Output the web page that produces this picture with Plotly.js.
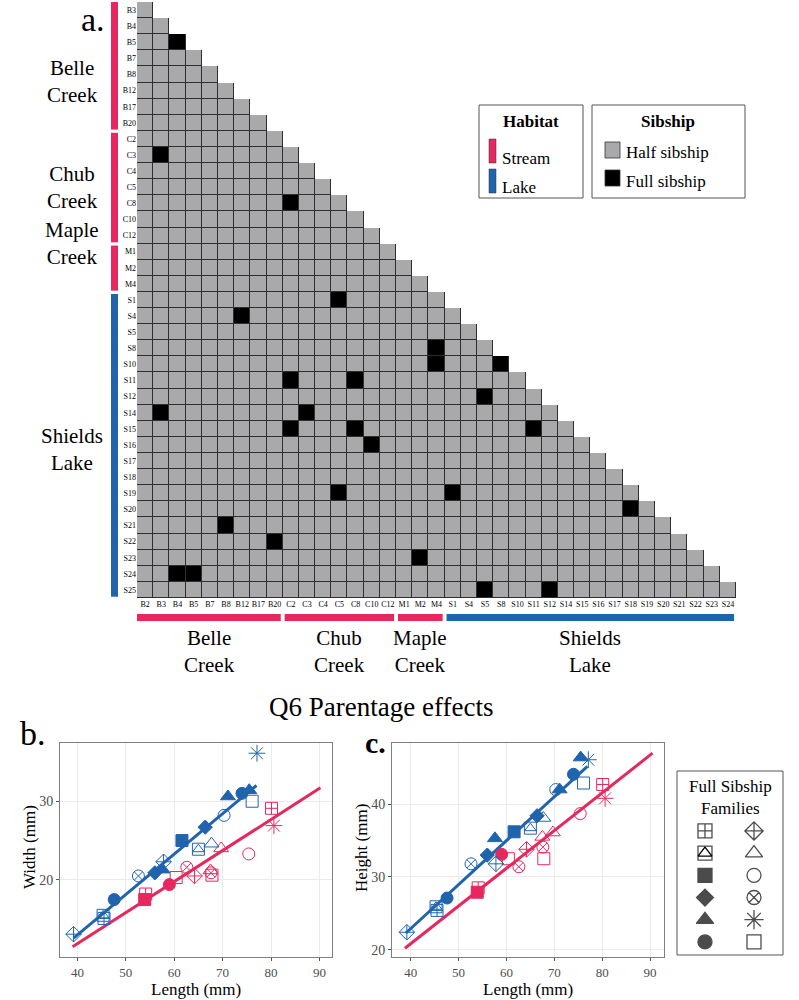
<!DOCTYPE html>
<html><head><meta charset="utf-8">
<script src="https://cdn.plot.ly/plotly-3.0.1.min.js"></script>
<style>html,body{margin:0;padding:0;background:#fff}</style>
</head><body><div id="chart" style="width:799px;height:1000px"></div>
<script>
// ---------- Panel a data ----------
const individuals = ['B2','B3','B4','B5','B7','B8','B12','B17','B20',
  'C2','C3','C4','C5','C8','C10','C12','M1','M2','M4',
  'S1','S4','S5','S8','S10','S11','S12','S14','S15','S16','S17','S18','S19','S20','S21','S22','S23','S24','S25'];
const colLabels = individuals.slice(0, individuals.length - 1);
const rowLabels = individuals.slice(1);
const fullSibPairs = [['B5','B4'],['C3','B3'],['C8','C2'],['S1','C5'],['S4','B12'],['S8','M4'],['S10','M4'],['S10','S8'],
  ['S11','C2'],['S11','C8'],['S12','S5'],['S14','B3'],['S14','C3'],['S15','C2'],['S15','C8'],['S15','S11'],['S16','C10'],
  ['S19','C5'],['S19','S1'],['S20','S18'],['S21','B8'],['S22','B20'],['S23','M2'],['S24','B4'],['S24','B5'],['S25','S5'],['S25','S12']];
const groupPrefixes = ['B','C','M','S'];
const groupNames = ['Belle<br>Creek','Chub<br>Creek','Maple<br>Creek','Shields<br>Lake'];
const groupHabitat = ['Stream','Stream','Stream','Lake'];

// ---------- Panels b, c data ----------
const lakeShape  = ['diamond-cross','square-cross','square-triangle','circle','circle-x','diamond','triangle','diamond-cross','square','square-triangle','triangle-open','diamond','circle-open','triangle','circle','triangle','square-open','asterisk'];
const lakeLength = [39.2,45.5,45.3,47.6,52.6,56.0,57.6,57.8,61.6,65.0,67.7,66.4,70.3,71.1,74.0,75.5,76.1,77.1];
const lakeWidth  = [13.1,15.1,15.5,17.5,20.5,20.9,21.3,22.3,25.0,23.9,24.6,26.7,28.2,30.6,31.0,31.4,30.0,36.1];
const lakeHeight = [22.4,25.4,25.9,27.1,31.8,33.0,35.3,31.8,36.2,36.7,38.1,38.4,42.0,42.0,44.1,46.4,42.9,46.1];

const streamShape  = ['square','square-cross','circle','square-open','circle-x','diamond-cross','triangle-open','circle-x','square-open','triangle-open','circle-open','square-cross','asterisk'];
const streamLength = [53.9,54.1,59.0,60.4,62.6,64.2,67.5,67.6,67.8,69.7,75.4,80.1,80.6];
const streamWidth  = [17.5,18.2,19.4,20.3,21.6,20.5,21.2,20.9,20.6,24.0,23.3,29.1,26.9];
const streamHeight = [27.9,28.5,33.1,32.5,31.4,33.8,35.5,34.1,32.5,36.1,38.7,42.7,40.8];

const fitLakeLength   = [39.2, 77.0];
const fitLakeWidth    = [12.6, 32.0];
const fitStreamLength = [39.0, 90.2];
const fitStreamWidth  = [11.5, 31.7];
const fitLakeLengthC   = [39.0, 76.9];
const fitLakeHeight    = [22.3, 45.2];
const fitStreamLengthC = [38.8, 90.5];
const fitStreamHeight  = [20.2, 47.0];

const familySymbols = ['square-cross','square-triangle','square','diamond','triangle','circle',
                       'diamond-cross','triangle-open','circle-open','circle-x','asterisk','square-open'];

// ---------- styling ----------
const FONT = '"Liberation Serif", serif';
const STREAM = '#E6285E';
const LAKE = '#2064AE';
const HALF = '#A9A9AC';
const FULL = '#000000';
const px = v => v / 799, py = v => 1 - v / 1000;

const symMap = {
  'square-cross':'square-cross-open','square-triangle':'square-open','square':'square','diamond':'diamond',
  'triangle':'triangle-up','circle':'circle','diamond-cross':'diamond-cross-open','triangle-open':'triangle-up-open',
  'circle-open':'circle-open','circle-x':'circle-x-open','asterisk':'asterisk-open','square-open':'square-open'};
const sizeMap = {
  'square-cross':12,'square-triangle':12,'square':12,'diamond':11,'triangle':13,'circle':12,
  'diamond-cross':12,'triangle-open':13,'circle-open':12,'circle-x':12,'asterisk':14,'square-open':12};

// ---------- heatmap ----------
const fullSet = new Set(fullSibPairs.map(p => p[0] + '|' + p[1]));
const zMain = rowLabels.map((r, i) => colLabels.map((c, j) => j <= i ? (fullSet.has(r + '|' + c) ? 1 : 0) : null));
const zBorder = rowLabels.map((r, i) => colLabels.map((c, j) => j <= i ? 1 : null));

const traces = [];
traces.push({type:'heatmap', x: colLabels, y: rowLabels, z: zBorder, xaxis:'x', yaxis:'y',
  colorscale:[[0,'#2e2e2e'],[1,'#2e2e2e']], showscale:false, hoverinfo:'skip'});
traces.push({type:'heatmap', x: colLabels, y: rowLabels, z: zMain, xaxis:'x', yaxis:'y', xgap:1, ygap:1,
  zmin:0, zmax:1, colorscale:[[0,HALF],[0.5,HALF],[0.5,FULL],[1,FULL]], showscale:false, hoverinfo:'skip'});

// ---------- scatter panels ----------
function addPoints(shapes, xs, ys, color, xa, ya) {
  traces.push({type:'scatter', mode:'markers', x: xs, y: ys, xaxis: xa, yaxis: ya, hoverinfo:'skip',
    marker:{symbol: shapes.map(s => symMap[s]), size: shapes.map(s => sizeMap[s]), color: color, opacity:1,
      line:{color: color, width: 1}}});
  const tri = shapes.map((s, i) => s === 'square-triangle' ? i : -1).filter(i => i >= 0);
  traces.push({type:'scatter', mode:'markers', x: tri.map(i => xs[i]), y: tri.map(i => ys[i]), xaxis: xa, yaxis: ya,
    hoverinfo:'skip', marker:{symbol:'triangle-up-open', size:10, color: color, line:{color: color, width: 1}}});
}
function addLine(xs, ys, color, xa, ya) {
  traces.push({type:'scatter', mode:'lines', x: xs, y: ys, xaxis: xa, yaxis: ya, hoverinfo:'skip',
    line:{color: color, width: 3}});
}
addLine(fitStreamLength, fitStreamWidth, STREAM, 'x2', 'y2');
addLine(fitLakeLength, fitLakeWidth, LAKE, 'x2', 'y2');
addPoints(streamShape, streamLength, streamWidth, STREAM, 'x2', 'y2');
addPoints(lakeShape, lakeLength, lakeWidth, LAKE, 'x2', 'y2');
addLine(fitStreamLengthC, fitStreamHeight, STREAM, 'x3', 'y3');
addLine(fitLakeLengthC, fitLakeHeight, LAKE, 'x3', 'y3');
addPoints(streamShape, streamLength, streamHeight, STREAM, 'x3', 'y3');
addPoints(lakeShape, lakeLength, lakeHeight, LAKE, 'x3', 'y3');

// family legend symbols (2 columns x 6 rows)
const famX = familySymbols.map((s, i) => Math.floor(i / 6));
const famY = familySymbols.map((s, i) => i % 6);
traces.push({type:'scatter', mode:'markers', x: famX, y: famY, xaxis:'x4', yaxis:'y4', hoverinfo:'skip',
  marker:{symbol: familySymbols.map(s => symMap[s]), size: familySymbols.map(s => sizeMap[s] + 2), color:'#000',
    line:{color:'#000', width:1.3}}});
const famTri = familySymbols.map((s, i) => s === 'square-triangle' ? i : -1).filter(i => i >= 0);
traces.push({type:'scatter', mode:'markers', x: famTri.map(i => famX[i]), y: famTri.map(i => famY[i]), xaxis:'x4', yaxis:'y4',
  hoverinfo:'skip', marker:{symbol:'triangle-up-open', size:12, color:'#000', line:{color:'#000', width:1.3}}});

// ---------- layout: shapes & annotations ----------
const shapes = [];
const annotations = [];
const txt = (x, y, text, size, opts) => Object.assign({xref:'paper', yref:'paper', x: px(x), y: py(y), text: text,
  showarrow:false, font:{family:FONT, size: size, color:'#000'}, xanchor:'center', yanchor:'middle'}, opts || {});

groupPrefixes.forEach((g, k) => {
  const rIdx = rowLabels.map((r, i) => r[0] === g ? i : -1).filter(i => i >= 0);
  const cIdx = colLabels.map((c, i) => c[0] === g ? i : -1).filter(i => i >= 0);
  const col = groupHabitat[k] === 'Stream' ? STREAM : LAKE;
  shapes.push({type:'rect', xref:'paper', yref:'y', x0: px(111), x1: px(118),
    y0: rIdx[0] - 0.5 + (k ? 0.12 : 0), y1: rIdx[rIdx.length - 1] + 0.5 - 0.08, fillcolor: col, line:{width:0}});
  shapes.push({type:'rect', xref:'x', yref:'paper', y0: py(621), y1: py(614),
    x0: cIdx[0] - 0.5 + (k ? 0.12 : -0.1), x1: cIdx[cIdx.length - 1] + 0.5 - 0.12, fillcolor: col, line:{width:0}});
  annotations.push({xref:'x', yref:'paper', x: (cIdx[0] + cIdx[cIdx.length - 1]) / 2, y: py(651),
    text: groupNames[k], showarrow:false, font:{family:FONT, size:21, color:'#000'}, xanchor:'center', yanchor:'middle'});
});
const leftLabelY = [82, 187, 243, 449];
groupNames.forEach((n, k) => annotations.push(txt(72, leftLabelY[k], n, 21)));

// panel letters & title
annotations.push(txt(93, 19, 'a.', 34));
annotations.push(txt(33, 733, 'b.', 34));
annotations.push(txt(375, 742, '<b>c.</b>', 30));
annotations.push(txt(381, 707, 'Q6 Parentage effects', 27));

// axis titles for b and c
annotations.push(txt(196, 989, 'Length (mm)', 17));
annotations.push(txt(528, 989, 'Length (mm)', 17));
annotations.push(txt(29, 847, 'Width (mm)', 17, {textangle:-90}));
annotations.push(txt(361, 848, 'Height (mm)', 17, {textangle:-90}));

// Habitat legend
shapes.push({type:'rect', xref:'paper', yref:'paper', x0: px(479), x1: px(583), y0: py(198), y1: py(105),
  line:{color:'#555', width:1}, fillcolor:'rgba(0,0,0,0)'});
annotations.push(txt(531, 121, '<b>Habitat</b>', 17));
shapes.push({type:'rect', xref:'paper', yref:'paper', x0: px(489), x1: px(496), y0: py(163), y1: py(139),
  fillcolor: STREAM, line:{color:'#333', width:0.5}});
shapes.push({type:'rect', xref:'paper', yref:'paper', x0: px(489), x1: px(496), y0: py(193), y1: py(169),
  fillcolor: LAKE, line:{color:'#333', width:0.5}});
annotations.push(txt(500, 158, 'Stream', 17, {xanchor:'left'}));
annotations.push(txt(500, 188, 'Lake', 17, {xanchor:'left'}));

// Sibship legend
shapes.push({type:'rect', xref:'paper', yref:'paper', x0: px(592), x1: px(745), y0: py(198), y1: py(105),
  line:{color:'#555', width:1}, fillcolor:'rgba(0,0,0,0)'});
annotations.push(txt(668, 121, '<b>Sibship</b>', 17));
shapes.push({type:'rect', xref:'paper', yref:'paper', x0: px(605), x1: px(620), y0: py(158), y1: py(142),
  fillcolor: HALF, line:{color:'#333', width:0.8}});
shapes.push({type:'rect', xref:'paper', yref:'paper', x0: px(605), x1: px(620), y0: py(186), y1: py(170),
  fillcolor: FULL, line:{color:'#333', width:0.8}});
annotations.push(txt(624, 152, 'Half sibship', 17, {xanchor:'left'}));
annotations.push(txt(624, 181, 'Full sibship', 17, {xanchor:'left'}));

// Family legend box
shapes.push({type:'rect', xref:'paper', yref:'paper', x0: px(677), x1: px(783), y0: py(955), y1: py(771),
  line:{color:'#555', width:1}, fillcolor:'rgba(0,0,0,0)'});
annotations.push(txt(730, 786, 'Full Sibship', 17));
annotations.push(txt(730, 808, 'Families', 17));

// ---------- axes ----------
const scatterAxisX = (dom, range, anchor) => ({domain: dom, range: range, anchor: anchor, tickvals:[40,50,60,70,80,90],
  showgrid:true, gridcolor:'#EBEBEB', gridwidth:1, zeroline:false, showline:true, linecolor:'#7F7F7F', linewidth:1, mirror:true,
  ticks:'outside', ticklen:3, tickcolor:'#555', tickfont:{family:FONT, size:13, color:'#4D4D4D'}});
const scatterAxisY = (dom, range, anchor, ticks) => ({domain: dom, range: range, anchor: anchor, tickvals: ticks,
  showgrid:true, gridcolor:'#EBEBEB', gridwidth:1, zeroline:false, showline:true, linecolor:'#7F7F7F', linewidth:1, mirror:true,
  ticks:'outside', ticklen:3, tickcolor:'#555', tickfont:{family:FONT, size:14, color:'#4D4D4D'}});

const layout = {
  width: 799, height: 1000, margin:{l:0, r:0, t:0, b:0}, paper_bgcolor:'#fff', plot_bgcolor:'rgba(0,0,0,0)',
  showlegend:false, font:{family:FONT},
  xaxis:{domain:[px(137), px(736)], anchor:'y', type:'category', range:[-0.5, colLabels.length - 0.5],
    showgrid:false, zeroline:false, showline:false, ticks:'', tickfont:{family:FONT, size:8, color:'#000'}, tickangle:0, fixedrange:true},
  yaxis:{domain:[py(598), py(2)], anchor:'x', type:'category', range:[rowLabels.length - 0.5, -0.5],
    showgrid:false, zeroline:false, showline:false, ticks:'', tickfont:{family:FONT, size:8, color:'#000'}, fixedrange:true},
  xaxis2: scatterAxisX([px(60), px(332)], [36.4, 92.6], 'y2'),
  yaxis2: scatterAxisY([py(957), py(743)], [10.2, 37.4], 'x2', [20, 30]),
  xaxis3: scatterAxisX([px(392), px(664)], [36.1, 92.9], 'y3'),
  yaxis3: scatterAxisY([py(957), py(743)], [19.0, 48.4], 'x3', [20, 30, 40]),
  xaxis4:{domain:[px(677), px(783)], anchor:'y4', range:[-0.571, 1.592], visible:false, fixedrange:true},
  yaxis4:{domain:[py(955), py(771)], anchor:'x4', range:[5.59, -2.70], visible:false, fixedrange:true},
  shapes: shapes, annotations: annotations
};

Plotly.newPlot('chart', traces, layout, {staticPlot:true, displayModeBar:false});
</script>
</body></html>
